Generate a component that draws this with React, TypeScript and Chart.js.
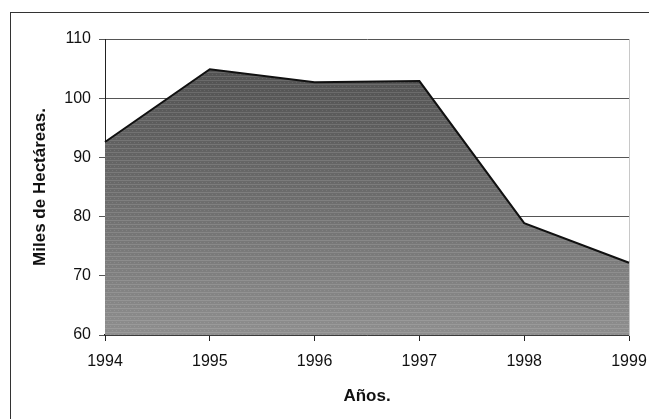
import React, { useEffect, useRef } from "react";
import { Chart, registerables } from "chart.js";

Chart.register(...registerables);

const years = ["1994", "1995", "1996", "1997", "1998", "1999"];
const hectareas = [92.6, 104.9, 102.7, 102.9, 78.9, 72.2];
const yMin = 60;
const yMax = 110;
const yStep = 10;
const yTitle = "Miles de Hectáreas.";
const xTitle = "Años.";

const FONT = "'Liberation Sans', Arial, sans-serif";

let cachedPattern: CanvasPattern | null = null;
function makePattern(ctx: CanvasRenderingContext2D, top: number, bottom: number) {
  if (cachedPattern) return cachedPattern;
  const c = document.createElement("canvas");
  c.width = 4;
  c.height = 419;
  const p = c.getContext("2d")!;
  const g = p.createLinearGradient(0, top, 0, bottom);
  g.addColorStop(0, "#4c4c4c");
  g.addColorStop(0.5, "#6a6a6a");
  g.addColorStop(1, "#8e8e8e");
  p.fillStyle = g;
  p.fillRect(0, 0, 4, 419);
  for (let y = 0; y < 419; y += 4) {
    p.fillStyle = "rgba(255,255,255,0.13)";
    p.fillRect(0, y, 4, 1);
    p.fillStyle = "rgba(255,255,255,0.10)";
    p.fillRect(y % 8 === 0 ? 0 : 2, y + 2, 1, 1);
  }
  cachedPattern = ctx.createPattern(c, "repeat");
  return cachedPattern;
}

export default function App() {
  const ref = useRef<HTMLCanvasElement | null>(null);
  useEffect(() => {
    if (!ref.current) return;
    cachedPattern = null;
    const chart = new Chart(ref.current, {
      type: "line",
      data: {
        labels: years,
        datasets: [
          {
            data: hectareas,
            borderColor: "#111",
            borderWidth: 2,
            pointRadius: 0,
            tension: 0,
            fill: "start",
            backgroundColor: (ctx: any) => {
              const ca = ctx.chart.chartArea;
              if (!ca) return "#777";
              return makePattern(ctx.chart.ctx, ca.top, ca.bottom) || "#777";
            },
          },
        ],
      },
      options: {
        animation: false,
        responsive: false,
        layout: { padding: { left: 0, right: 20, top: 39, bottom: 0 } },
        plugins: { legend: { display: false }, tooltip: { enabled: false } },
        scales: {
          x: {
            offset: false,
            afterFit: (s: any) => {
              s.height = 84;
              s.paddingLeft = 0;
              s.paddingRight = 0;
            },
            grid: {
              drawOnChartArea: false,
              drawTicks: true,
              tickLength: 6,
              color: "#222",
            },
            border: { color: "#222", width: 1.5 },
            ticks: { color: "#111", font: { family: FONT, size: 16 }, padding: 11, maxRotation: 0 },
            title: {
              display: true,
              text: xTitle,
              color: "#111",
              font: { family: FONT, size: 17, weight: "bold" },
              padding: { top: 0, bottom: 12 },
            },
          },
          y: {
            min: yMin,
            max: yMax,
            afterFit: (s: any) => {
              s.width = 105;
              s.paddingTop = 0;
              s.paddingBottom = 0;
            },
            ticks: { stepSize: yStep, color: "#111", font: { family: FONT, size: 16 }, padding: 8 },
            grid: { color: "#555", lineWidth: 1, tickLength: 6 },
            border: { color: "#222", width: 1 },
            title: {
              display: true,
              text: yTitle,
              color: "#111",
              font: { family: FONT, size: 17, weight: "bold" },
              padding: { top: 30, bottom: 0 },
            },
          },
          y2: {
            position: "right",
            min: yMin,
            max: yMax,
            afterFit: (s: any) => {
              s.width = 0;
              s.paddingTop = 0;
              s.paddingBottom = 0;
            },
            ticks: { display: false },
            grid: { drawOnChartArea: false, drawTicks: false },
            border: { color: "#c8c8c8", width: 1, dash: [2, 2] },
          },
        },
      },
    });
    return () => chart.destroy();
  }, []);
  return (
    <div style={{ position: "fixed", left: 0, top: 0, width: 649, height: 419, background: "#fff" }}>
      <div
        style={{
          position: "absolute",
          left: 10,
          top: 12,
          width: 700,
          height: 500,
          borderLeft: "1px solid #333",
          borderTop: "1px solid #333",
        }}
      />
      <canvas ref={ref} width={649} height={419} style={{ position: "absolute", left: 0, top: 0 }} />
    </div>
  );
}
